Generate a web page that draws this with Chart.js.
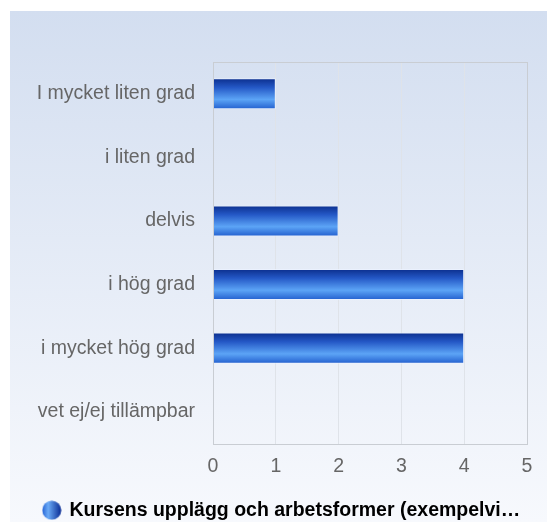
<!DOCTYPE html>
<html>
<head>
<meta charset="utf-8">
<script src="https://cdn.jsdelivr.net/npm/chart.js@4/dist/chart.umd.min.js"></script>
<style>
  body { margin: 0; background: #fff; overflow: hidden; }
  #panel {
    position: absolute; left: 10px; top: 11px; width: 537px; height: 511px;
    background: linear-gradient(#d3def0, #f7f9fd);
  }
</style>
</head>
<body>
<div id="panel"><canvas id="chart" width="537" height="519"></canvas></div>
<script>
const categories = ['I mycket liten grad', 'i liten grad', 'delvis', 'i hög grad', 'i mycket hög grad', 'vet ej/ej tillämpbar'];
const counts = [1, 0, 2, 4, 4, 0];
const xTicks = [0, 1, 2, 3, 4, 5];
const seriesLabel = 'Kursens upplägg och arbetsformer (exempelvi…';

// small round marker for the legend
const marker = document.createElement('canvas');
marker.width = 20; marker.height = 20;
(() => {
  const c = marker.getContext('2d');
  const g = c.createLinearGradient(1, 0, 19, 0);
  g.addColorStop(0, '#2c6ad8');
  g.addColorStop(0.3, '#6aaaf6');
  g.addColorStop(1, '#0c2f96');
  c.fillStyle = g;
  c.beginPath();
  c.arc(10, 10, 9.5, 0, Math.PI * 2);
  c.fill();
})();

const barFill = (context) => {
  const chart = context.chart;
  const y = chart.scales.y;
  if (!y || !chart.chartArea) return '#2a6ad8';
  const yc = y.getPixelForValue(context.dataIndex);
  const h = (chart.chartArea.bottom - chart.chartArea.top) / categories.length * 0.5;
  const g = chart.ctx.createLinearGradient(0, yc - h / 2, 0, yc + h / 2);
  g.addColorStop(0, '#0a2c8a');
  g.addColorStop(0.3, '#2458c6');
  g.addColorStop(0.68, '#5ca4f6');
  g.addColorStop(1, '#1f5bcc');
  return g;
};

const frame = {
  id: 'frame',
  afterDatasetsDraw(chart) {
    const a = chart.chartArea, ctx = chart.ctx;
    ctx.save();
    ctx.strokeStyle = '#c9cdd3';
    ctx.lineWidth = 1;
    ctx.strokeRect(Math.round(a.left) + 0.5, Math.round(a.top) + 0.5, Math.round(a.right - a.left), Math.round(a.bottom - a.top));
    ctx.restore();
  }
};

new Chart(document.getElementById('chart'), {
  type: 'bar',
  data: {
    labels: categories,
    datasets: [{
      label: seriesLabel,
      data: counts,
      backgroundColor: barFill,
      borderColor: 'rgba(235,242,255,0.85)',
      borderWidth: 1,
      borderSkipped: 'start',
      barPercentage: 0.49,
      categoryPercentage: 1
    }]
  },
  options: {
    indexAxis: 'y',
    responsive: false,
    animation: false,
    layout: { padding: { top: 51, right: 20, left: 27, bottom: 0 } },
    plugins: {
      tooltip: { enabled: false },
      legend: {
        position: 'bottom',
        labels: {
          usePointStyle: true,
          boxWidth: 16,
          boxHeight: 20,
          padding: 4,
          color: '#333',
          font: { family: 'Liberation Sans, Arial', size: 19.5, weight: 'bold' },
          generateLabels: (chart) => [{
            text: seriesLabel,
            pointStyle: marker,
            fillStyle: '#2a6ad8',
            strokeStyle: 'transparent',
            lineWidth: 0,
            datasetIndex: 0
          }]
        }
      }
    },
    scales: {
      x: {
        min: 0,
        max: 5,
        afterBuildTicks: (axis) => { axis.ticks = xTicks.map(v => ({ value: v })); },
        afterFit: (axis) => { axis.height = 53; },
        grid: { color: '#dfe3e9', drawTicks: false },
        border: { display: false },
        ticks: { color: '#666', padding: 11, font: { family: 'Liberation Sans, Arial', size: 19.5 } }
      },
      y: {
        afterFit: (axis) => { axis.width = 176; },
        grid: { display: false, drawTicks: false },
        border: { display: false },
        ticks: { color: '#666', padding: 18, font: { family: 'Liberation Sans, Arial', size: 19.5 } }
      }
    }
  },
  plugins: [frame]
});
</script>
</body>
</html>
